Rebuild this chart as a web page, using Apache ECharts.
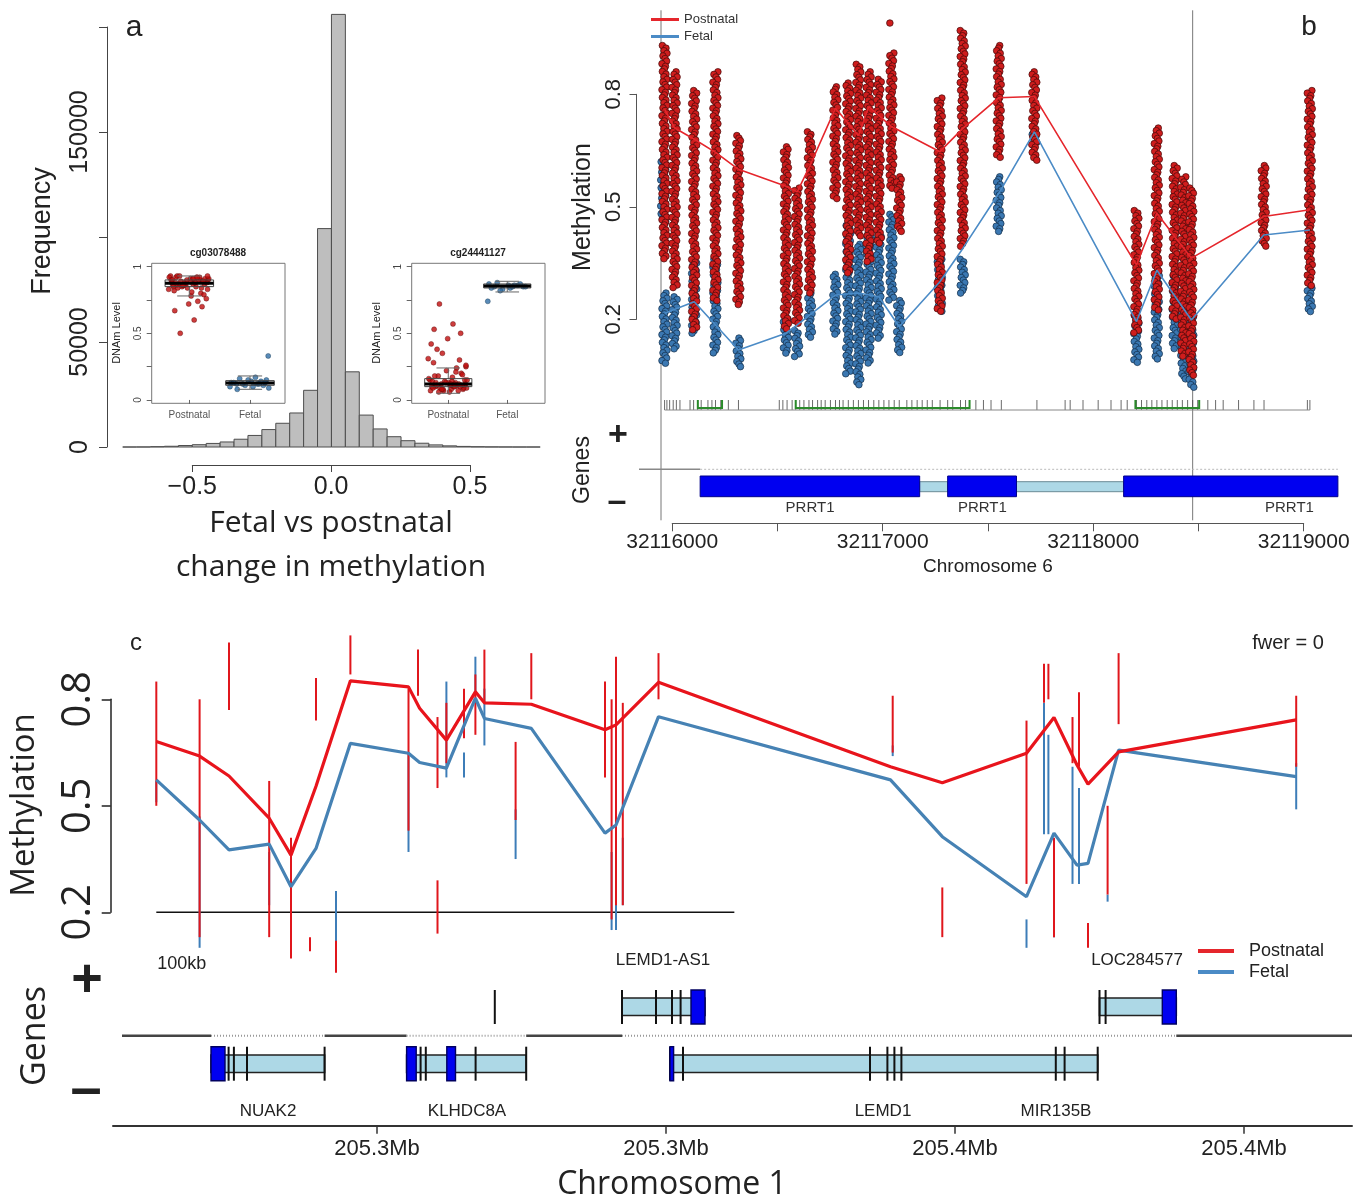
<!DOCTYPE html>
<html>
<head>
<meta charset="utf-8" />
<title>Fetal vs postnatal methylation</title>
<script src="https://cdn.jsdelivr.net/npm/echarts@6/dist/echarts.min.js"></script>
<style>html,body{margin:0;padding:0;background:#fff}</style>
</head>
<body>
<div id="chart" style="width:1368px;height:1203px"></div>
<script>
var SANS = "'Liberation Sans', Arial, sans-serif";
var HUM = "'Open Sans', 'Liberation Sans', sans-serif";

/* ===== panel a: histogram ===== */
var histEdges = [-0.75,-0.7,-0.65,-0.6,-0.55,-0.5,-0.45,-0.4,-0.35,-0.3,-0.25,-0.2,-0.15,-0.1,-0.05,0,0.05,0.1,0.15,0.2,0.25,0.3,0.35,0.4,0.45,0.5,0.55,0.6,0.65,0.7,0.75];
var histCounts = [0,20,150,350,700,1100,1700,2400,3700,5500,8300,11300,16200,27000,104000,206000,35800,15200,8600,4900,3000,1800,1000,550,280,120,50,20,0,0];
var aTicksX = [-0.5, 0, 0.5];
var aTicksY = [0, 50000, 100000, 150000, 200000];
var aLabelsY = [0, 50000, 150000];

/* ===== panel a: insets ===== */
var insetGroups = ['Postnatal', 'Fetal'];
var insetTicksY = [0, 0.25, 0.5, 0.75, 1];
var insetLabelsY = [0, 0.5, 1];
var insetJitter = [-0.22,0.18,0.05,-0.31,0.27,-0.08,0.12,-0.17,0.31,-0.27,0.02,0.22,-0.12,0.09,-0.33,0.25,-0.03,0.15,-0.21,0.3,-0.14,0.07,0.29,-0.25,0.11,-0.06,0.19,-0.3,0.24,-0.1,0.03,-0.19,0.28,-0.29,0.14,-0.01,0.21,-0.24,0.08,-0.15,0.26,-0.2,0.01,0.17,-0.28,0.1,-0.09,0.32,-0.16,0.06,0.23,-0.26,0.13,-0.04,0.2,-0.23,0.04,0.3,-0.11,-0.34];
var ins1Postnatal = [0.92,0.90,0.91,0.93,0.89,0.88,0.92,0.87,0.90,0.86,0.91,0.89,0.85,0.88,0.92,0.87,0.84,0.90,0.86,0.83,0.89,0.91,0.88,0.82,0.85,0.87,0.80,0.90,0.79,0.86,0.78,0.84,0.76,0.88,0.74,0.72,0.70,0.67,0.60,0.50,0.91,0.93,0.89,0.92,0.90,0.88,0.86,0.91,0.93,0.87,0.89,0.85,0.92,0.90,0.84,0.88,0.81,0.93,0.86,0.83];
var ins1Fetal = [0.12,0.14,0.10,0.13,0.15,0.11,0.12,0.16,0.09,0.13,0.14,0.11,0.12,0.17,0.10,0.13,0.15,0.12,0.08,0.33];
var ins2Postnatal = [0.10,0.12,0.08,0.15,0.11,0.07,0.13,0.18,0.09,0.14,0.06,0.20,0.12,0.10,0.16,0.08,0.22,0.11,0.13,0.25,0.09,0.17,0.12,0.28,0.10,0.14,0.30,0.07,0.19,0.35,0.11,0.38,0.15,0.42,0.24,0.46,0.50,0.53,0.57,0.72,0.09,0.11,0.13,0.07,0.10,0.12,0.08,0.15,0.06,0.14,0.11,0.09,0.21,0.13,0.10,0.18,0.12,0.26,0.08,0.31];
var ins2Fetal = [0.85,0.86,0.84,0.87,0.85,0.83,0.86,0.88,0.85,0.84,0.86,0.87,0.82,0.85,0.74];
// [group, lower whisker, Q1, median, Q3, upper whisker]
var ins1Boxes = [[1,0.78,0.85,0.876,0.90,0.93],[2,0.08,0.11,0.127,0.145,0.18]];
var ins2Boxes = [[1,0.05,0.10,0.12,0.16,0.24],[2,0.81,0.84,0.855,0.87,0.89]];

/* ===== panel b: chromosome 6 region ===== */
// [position, top, bottom] of each CpG's sample cloud
var bRedCols = [[32115964,0.93,0.36],[32116012,0.86,0.28],[32116105,0.81,0.17],[32116206,0.86,0.25],[32116315,0.69,0.24],[32116541,0.66,0.17],[32116594,0.55,0.19],[32116655,0.70,0.27],[32116776,0.82,0.52],[32116837,0.83,0.32],[32116885,0.88,0.42],[32116934,0.86,0.35],[32116982,0.84,0.40],[32117042,0.91,0.55],[32117042,0.99,0.985],[32117079,0.58,0.43],[32117272,0.79,0.22],[32117381,0.97,0.39],[32117552,0.93,0.63],[32117721,0.86,0.62],[32118206,0.49,0.16],[32118303,0.71,0.22],[32118388,0.61,0.20],[32118429,0.58,0.10],[32118467,0.55,0.05],[32118811,0.61,0.39],[32119030,0.81,0.29]];
var bBlueCols = [[32115958,0.62,0.46],[32115964,0.27,0.08],[32116012,0.26,0.12],[32116105,0.35,0.16],[32116206,0.36,0.11],[32116315,0.15,0.07],[32116541,0.20,0.11],[32116594,0.17,0.10],[32116655,0.27,0.15],[32116776,0.32,0.16],[32116837,0.45,0.05],[32116885,0.40,0.02],[32116934,0.43,0.08],[32116982,0.42,0.15],[32117042,0.48,0.25],[32117079,0.25,0.11],[32117272,0.36,0.22],[32117381,0.36,0.27],[32117552,0.58,0.43],[32117721,0.70,0.66],[32118206,0.21,0.08],[32118303,0.33,0.09],[32118388,0.33,0.12],[32118429,0.27,0.04],[32118467,0.22,0.02],[32119030,0.29,0.22]];
var bRedMean = [[32115964,0.76],[32116012,0.71],[32116105,0.68],[32116206,0.645],[32116315,0.60],[32116541,0.555],[32116594,0.54],[32116655,0.61],[32116776,0.763],[32116885,0.69],[32116934,0.767],[32117042,0.714],[32117272,0.647],[32117381,0.709],[32117552,0.791],[32117721,0.794],[32118206,0.345],[32118303,0.483],[32118467,0.363],[32118811,0.474],[32119030,0.492]];
var bBlueMean = [[32115964,0.216],[32116105,0.247],[32116206,0.185],[32116315,0.118],[32116541,0.163],[32116594,0.185],[32116776,0.265],[32116885,0.27],[32116982,0.26],[32117079,0.18],[32117272,0.30],[32117381,0.389],[32117552,0.536],[32117721,0.70],[32118206,0.194],[32118303,0.331],[32118467,0.198],[32118811,0.425],[32119030,0.438]];
var bRug = [32115964,32115975,32115988,32116005,32116020,32116037,32116085,32116102,32116121,32116138,32116170,32116189,32116206,32116231,32116267,32116315,32116509,32116526,32116546,32116570,32116587,32116606,32116626,32116650,32116667,32116691,32116708,32116727,32116752,32116776,32116795,32116812,32116837,32116861,32116885,32116909,32116933,32116958,32116982,32117006,32117030,32117055,32117079,32117115,32117139,32117164,32117188,32117212,32117236,32117273,32117309,32117333,32117370,32117394,32117443,32117479,32117515,32117564,32117733,32117867,32117891,32117952,32118024,32118085,32118133,32118162,32118206,32118230,32118255,32118279,32118303,32118327,32118352,32118376,32118400,32118424,32118449,32118473,32118497,32118545,32118582,32118618,32118691,32118764,32118812,32119018,32119030];
var bIslands = [[32116122,32116237],[32116587,32117413],[32118201,32118504]];
var bExons = [[32116133,32117176],[32117309,32117636],[32118145,32119163]];
var bGeneLabels = [[32116655,'PRRT1'],[32117474,'PRRT1'],[32118933,'PRRT1']];
var bRegion = [32115947, 32118473];
var bTicks = [32116000,32116500,32117000,32117500,32118000,32118500,32119000];
var bTickLabels = [32116000,32117000,32118000,32119000];
var bTicksY = [0.2, 0.5, 0.8];

/* ===== panel c: chromosome 1 region ===== */
var cRedCols = [[205211820,0.85,0.50],[205219310,0.80,0.13],[205224396,0.96,0.77],[205231350,0.57,0.13],[205235122,0.41,0.07],[205238409,0.13,0.09],[205239447,0.86,0.74],[205242907,0.12,0.03],[205245398,0.98,0.87],[205255450,0.83,0.43],[205257093,0.94,0.81],[205260467,0.75,0.55],[205260467,0.29,0.14],[205262006,0.79,0.62],[205265051,0.83,0.69],[205267023,0.87,0.70],[205268580,0.94,0.79],[205273978,0.68,0.46],[205276694,0.93,0.80],[205289444,0.85,0.58],[205290586,0.80,0.18],[205291347,0.92,0.22],[205292523,0.79,0.22],[205298700,0.93,0.80],[205339216,0.81,0.65],[205347797,0.27,0.13],[205362364,0.74,0.28],[205365391,0.90,0.79],[205366152,0.90,0.80],[205367121,0.41,0.13],[205370322,0.75,0.62],[205371446,0.82,0.61],[205373003,0.17,0.10],[205376394,0.50,0.25],[205378297,0.93,0.73],[205409022,0.81,0.61]];
var cBlueCols = [[205211820,0.57,0.51],[205219310,0.47,0.10],[205231350,0.37,0.22],[205235122,0.27,0.18],[205242907,0.26,0.07],[205255450,0.65,0.37],[205262006,0.85,0.58],[205265051,0.65,0.58],[205267023,0.92,0.82],[205268580,0.83,0.67],[205273978,0.49,0.35],[205290586,0.37,0.15],[205291347,0.46,0.15],[205292523,0.41,0.22],[205339216,0.67,0.64],[205362364,0.18,0.10],[205365391,0.79,0.42],[205366152,0.70,0.42],[205367121,0.25,0.13],[205370322,0.61,0.28],[205371446,0.55,0.28],[205376394,0.25,0.23],[205409022,0.62,0.49]];
var cRedMean = [[205211820,0.681],[205219310,0.640],[205224396,0.584],[205231350,0.465],[205235122,0.361],[205239447,0.555],[205245398,0.852],[205255450,0.835],[205257370,0.775],[205262006,0.685],[205267023,0.821],[205268580,0.790],[205276694,0.786],[205289444,0.714],[205291347,0.728],[205298700,0.848],[205338836,0.610],[205347797,0.565],[205362364,0.648],[205367121,0.749],[205371100,0.615],[205373003,0.561],[205378297,0.652],[205409022,0.742]];
var cBlueMean = [[205211820,0.573],[205219310,0.46],[205224396,0.376],[205231350,0.392],[205235122,0.272],[205239447,0.38],[205245398,0.676],[205255450,0.648],[205257370,0.622],[205262006,0.606],[205267023,0.803],[205268580,0.746],[205276694,0.718],[205289444,0.423],[205291347,0.446],[205298700,0.751],[205338836,0.573],[205347797,0.413],[205362364,0.244],[205367121,0.423],[205371100,0.333],[205373003,0.338],[205378297,0.657],[205409022,0.582]];
var cScaleBar = [205211820, 100000];
// [start, end, strand]
var cGenes = [[205292385,205306744,1],[205374993,205388279,1],[205221282,205240935,-1],[205255121,205275812,-1],[205300689,205374681,-1]];
var cExonLines = [[205270379,1],[205292385,1],[205298267,1],[205301035,1],[205302523,1],[205374993,1],[205376048,1],[205224327,-1],[205225244,-1],[205227510,-1],[205240935,-1],[205257543,-1],[205258442,-1],[205267058,-1],[205275812,-1],[205300689,-1],[205302938,-1],[205335289,-1],[205338299,-1],[205339510,-1],[205340721,-1],[205367432,-1],[205368955,-1],[205374681,-1]];
var cCodingExons = [[205304322,205306744,1],[205385857,205388279,1],[205221282,205223704,-1],[205255121,205256782,-1],[205262075,205263580,-1],[205300689,205301312,-1]];
var cGeneLabels = [[205299478,'LEMD1-AS1',1],[205381480,'LOC284577',1],[205231143,'NUAK2',-1],[205265570,'KLHDC8A',-1],[205337538,'LEMD1',-1],[205367467,'MIR135B',-1]];
var cTicks = [205250000,205300000,205350000,205400000];
var cTickLabels = ['205.3Mb','205.3Mb','205.4Mb','205.4Mb'];
var cTicksY = [0.2, 0.5, 0.8];

var BLUE = '#3d7db8';
var LRED = '#e5262c', LBLUE = '#4b8bc6';

/* ===== render helpers ===== */
function renderHist(params, api) {
  var p0 = api.coord([api.value(0), 0]);
  var p1 = api.coord([api.value(1), api.value(2)]);
  return { type: 'rect', shape: { x: p0[0], y: p1[1], width: p1[0] - p0[0], height: p0[1] - p1[1] },
    style: { fill: '#bebebe', stroke: '#4d4d4d', lineWidth: 1 } };
}

function renderBox(params, api) {
  var g = api.value(0);
  var lo = api.coord([g, api.value(1)]), q1 = api.coord([g, api.value(2)]);
  var md = api.coord([g, api.value(3)]), q3 = api.coord([g, api.value(4)]), hi = api.coord([g, api.value(5)]);
  var hw = api.size([0.8, 0])[0] / 2;
  var gray = { stroke: '#666', lineWidth: 1 };
  return { type: 'group', children: [
    { type: 'line', shape: { x1: lo[0], y1: lo[1], x2: q1[0], y2: q1[1] }, style: gray },
    { type: 'line', shape: { x1: q3[0], y1: q3[1], x2: hi[0], y2: hi[1] }, style: gray },
    { type: 'line', shape: { x1: lo[0] - hw / 2, y1: lo[1], x2: lo[0] + hw / 2, y2: lo[1] }, style: gray },
    { type: 'line', shape: { x1: hi[0] - hw / 2, y1: hi[1], x2: hi[0] + hw / 2, y2: hi[1] }, style: gray },
    { type: 'rect', shape: { x: q3[0] - hw, y: q3[1], width: hw * 2, height: q1[1] - q3[1] }, style: { fill: 'none', stroke: '#444', lineWidth: 1 } },
    { type: 'line', shape: { x1: md[0] - hw, y1: md[1], x2: md[0] + hw, y2: md[1] }, style: { stroke: '#000', lineWidth: 3 } }
  ] };
}

// a cloud of overlapping sample dots drawn over the column's range
var DOT_SHIFT = [-2.2, 1.4, -0.6, 2.4, -1.6, 0.5, 2.0, -2.6, 0.9, -0.2];
function dotColumn(fill, stroke) {
  return function (params, api) {
    var top = api.coord([api.value(0), api.value(1)]);
    var bot = api.coord([api.value(0), api.value(2)]);
    var kids = [], k = params.dataIndex;
    for (var y = top[1]; y <= bot[1] + 0.5; y += 2.6) {
      kids.push({ type: 'circle', shape: { cx: top[0] + DOT_SHIFT[k % DOT_SHIFT.length], cy: y, r: 3.3 },
        style: { fill: fill, stroke: stroke, lineWidth: 0.7 } });
      k++;
    }
    return { type: 'group', children: kids };
  };
}

function lineColumn(color) {
  return function (params, api) {
    var top = api.coord([api.value(0), api.value(1)]);
    var bot = api.coord([api.value(0), api.value(2)]);
    return { type: 'line', shape: { x1: top[0], y1: top[1], x2: bot[0], y2: bot[1] }, style: { stroke: color, lineWidth: 2 } };
  };
}

function xOf(api, v) { return api.coord([v, 0])[0]; }

/* ===== option ===== */
var grids = [
  { left: 122.7, top: 6, width: 417.5, height: 441 },          // 0 histogram
  { left: 107, top: 27, width: 10, height: 420 },               // 1 hist y axis
  { left: 192.3, top: 400, width: 277.7, height: 65 },          // 2 hist x axis
  { left: 151.7, top: 263.3, width: 133.3, height: 140, show: true, borderColor: '#777', borderWidth: 1, backgroundColor: '#fff' }, // 3 inset 1
  { left: 151.7, top: 266.7, width: 10, height: 133.3 },        // 4 inset 1 y axis
  { left: 411.7, top: 263.3, width: 133.3, height: 140, show: true, borderColor: '#777', borderWidth: 1, backgroundColor: '#fff' }, // 5 inset 2
  { left: 411.7, top: 266.7, width: 10, height: 133.3 },        // 6 inset 2 y axis
  { left: 661, top: 19.3, width: 679, height: 375 },            // 7 panel b data
  { left: 636.5, top: 94.3, width: 10, height: 225 },           // 8 panel b y axis
  { left: 672.2, top: 450, width: 631.5, height: 73.3 },        // 9 panel b x axis
  { left: 661, top: 395, width: 679, height: 128 },             // 10 panel b tracks
  { left: 113, top: 628.3, width: 1239, height: 355 },          // 11 panel c data
  { left: 110.7, top: 699.3, width: 10, height: 213 },          // 12 panel c y axis
  { left: 113, top: 990, width: 1239, height: 135.7 }           // 13 panel c tracks + x axis
];
grids.forEach(function (g) { g.outerBoundsMode = 'none'; g.containLabel = false; });

function hiddenAxis(gi, min, max) {
  return { gridIndex: gi, type: 'value', min: min, max: max, show: false };
}
var axisGray = { color: '#444', width: 1 };

var xAxes = [
  hiddenAxis(0, -0.75, 0.75),
  hiddenAxis(1, 0, 1),
  { gridIndex: 2, type: 'value', min: -0.5, max: 0.5, position: 'bottom',
    axisLine: { show: true, lineStyle: axisGray }, splitLine: { show: false },
    axisTick: { show: true, customValues: aTicksX, length: 7, lineStyle: axisGray },
    axisLabel: { show: true, customValues: aTicksX, margin: 10, fontSize: 25, color: '#222', fontFamily: SANS,
      formatter: function (v) { return (v < 0 ? '\u2212' : '') + Math.abs(v).toFixed(1); } } },
  { gridIndex: 3, type: 'value', min: 0.38, max: 2.577, position: 'bottom',
    axisLine: { show: false }, splitLine: { show: false },
    axisTick: { show: true, customValues: [1, 2], length: 4, lineStyle: { color: '#666' } },
    axisLabel: { show: true, customValues: [1, 2], margin: 7, fontSize: 10, color: '#555', fontFamily: SANS,
      formatter: function (v) { return insetGroups[v - 1]; } } },
  hiddenAxis(4, 0, 1),
  { gridIndex: 5, type: 'value', min: 0.38, max: 2.64, position: 'bottom',
    axisLine: { show: false }, splitLine: { show: false },
    axisTick: { show: true, customValues: [1, 2], length: 4, lineStyle: { color: '#666' } },
    axisLabel: { show: true, customValues: [1, 2], margin: 7, fontSize: 10, color: '#555', fontFamily: SANS,
      formatter: function (v) { return insetGroups[v - 1]; } } },
  hiddenAxis(6, 0, 1),
  hiddenAxis(7, 32115947, 32119173),
  hiddenAxis(8, 0, 1),
  { gridIndex: 9, type: 'value', min: 32116000, max: 32119000, position: 'bottom',
    axisLine: { show: true, lineStyle: { color: '#555' } }, splitLine: { show: false },
    axisTick: { show: true, customValues: bTicks, length: 8, lineStyle: { color: '#555' } },
    axisLabel: { show: true, customValues: bTickLabels, margin: 8, fontSize: 21, color: '#222', fontFamily: SANS,
      formatter: function (v) { return String(v); } } },
  hiddenAxis(10, 32115947, 32119173),
  hiddenAxis(11, 205204328, 205418675),
  hiddenAxis(12, 0, 1),
  { gridIndex: 13, type: 'value', min: 205204328, max: 205418675, position: 'bottom',
    axisLine: { show: true, lineStyle: { color: '#333', width: 2 } }, splitLine: { show: false },
    axisTick: { show: true, customValues: cTicks, length: 8, lineStyle: { color: '#333', width: 1.5 } },
    axisLabel: { show: true, customValues: cTicks, margin: 12, fontSize: 22, color: '#222', fontFamily: SANS,
      formatter: function (v) { return cTickLabels[cTicks.indexOf(v)]; } } }
];

var yAxes = [
  hiddenAxis(0, 0, 210000),
  { gridIndex: 1, type: 'value', min: 0, max: 200000, position: 'left',
    axisLine: { show: true, lineStyle: axisGray }, splitLine: { show: false },
    axisTick: { show: true, customValues: aTicksY, length: 8, lineStyle: axisGray },
    axisLabel: { show: true, customValues: aLabelsY, rotate: 90, margin: 14, fontSize: 25, color: '#222', fontFamily: SANS,
      formatter: function (v) { return String(v); } } },
  hiddenAxis(2, 0, 1),
  hiddenAxis(3, -0.025, 1.025),
  { gridIndex: 4, type: 'value', min: 0, max: 1, position: 'left',
    axisLine: { show: false }, splitLine: { show: false },
    axisTick: { show: true, customValues: insetTicksY, length: 5, lineStyle: { color: '#666' } },
    axisLabel: { show: true, customValues: insetLabelsY, rotate: 90, margin: 8, fontSize: 10, color: '#444', fontFamily: SANS,
      formatter: function (v) { return String(v); } } },
  hiddenAxis(5, -0.025, 1.025),
  { gridIndex: 6, type: 'value', min: 0, max: 1, position: 'left',
    axisLine: { show: false }, splitLine: { show: false },
    axisTick: { show: true, customValues: insetTicksY, length: 5, lineStyle: { color: '#666' } },
    axisLabel: { show: true, customValues: insetLabelsY, rotate: 90, margin: 8, fontSize: 10, color: '#444', fontFamily: SANS,
      formatter: function (v) { return String(v); } } },
  hiddenAxis(7, 0, 1),
  { gridIndex: 8, type: 'value', min: 0.2, max: 0.8, position: 'left',
    axisLine: { show: true, lineStyle: { color: '#555' } }, splitLine: { show: false },
    axisTick: { show: true, customValues: bTicksY, length: 7, lineStyle: { color: '#555' } },
    axisLabel: { show: true, customValues: bTicksY, rotate: 90, margin: 12, fontSize: 22, color: '#222', fontFamily: SANS,
      formatter: function (v) { return v.toFixed(1); } } },
  hiddenAxis(9, 0, 1),
  hiddenAxis(10, 0, 1),
  hiddenAxis(11, 0, 1),
  { gridIndex: 12, type: 'value', min: 0.2, max: 0.8, position: 'left',
    axisLine: { show: true, lineStyle: { color: '#222', width: 1.5 } }, splitLine: { show: false },
    axisTick: { show: true, customValues: cTicksY, length: 9, lineStyle: { color: '#222', width: 1.5 } },
    axisLabel: { show: true, customValues: cTicksY, rotate: 90, margin: 12, fontSize: 40, color: '#222', fontFamily: HUM,
      formatter: function (v) { return v.toFixed(1); } } },
  hiddenAxis(13, 0, 1)
];

function jittered(values, group) {
  return values.map(function (v, i) { return [group + insetJitter[i % insetJitter.length], v]; });
}

var series = [];
// panel a histogram
series.push({ type: 'custom', xAxisIndex: 0, yAxisIndex: 0, renderItem: renderHist,
  encode: { x: [0, 1], y: 2 },
  data: histCounts.map(function (c, i) { return [histEdges[i], histEdges[i + 1], c]; }) });

// insets
[[3, ins1Postnatal, ins1Fetal, ins1Boxes], [5, ins2Postnatal, ins2Fetal, ins2Boxes]].forEach(function (ins) {
  series.push({ type: 'scatter', xAxisIndex: ins[0], yAxisIndex: ins[0], symbolSize: 5, z: 3,
    itemStyle: { color: '#c00d0d', borderColor: '#5a0808', borderWidth: 0.5 }, data: jittered(ins[1], 1) });
  series.push({ type: 'scatter', xAxisIndex: ins[0], yAxisIndex: ins[0], symbolSize: 5, z: 3,
    itemStyle: { color: '#2f6ea6', borderColor: '#143650', borderWidth: 0.5 }, data: jittered(ins[2], 2) });
  series.push({ type: 'custom', xAxisIndex: ins[0], yAxisIndex: ins[0], renderItem: renderBox, z: 4,
    encode: { x: 0, y: [1, 2, 3, 4, 5] }, data: ins[3] });
});

// panel b: region boundary lines
series.push({ type: 'custom', xAxisIndex: 7, yAxisIndex: 7, z: 1,
  renderItem: function (params, api) {
    var x = xOf(api, api.value(0)), cs = params.coordSys;
    return { type: 'line', shape: { x1: x, y1: cs.y - 9, x2: x, y2: cs.y + cs.height + 126 }, style: { stroke: '#777', lineWidth: 1 } };
  }, data: bRegion.map(function (p) { return [p, 0]; }) });
// panel b: sample clouds
series.push({ type: 'custom', xAxisIndex: 7, yAxisIndex: 7, renderItem: dotColumn('#3b78b2', '#112c47'),
  encode: { x: 0, y: [1, 2] }, data: bBlueCols });
series.push({ type: 'custom', xAxisIndex: 7, yAxisIndex: 7, renderItem: dotColumn('#cf1d1d', '#420909'),
  encode: { x: 0, y: [1, 2] }, data: bRedCols });
series.push({ name: 'Fetal', type: 'line', xAxisIndex: 7, yAxisIndex: 7, showSymbol: false, symbol: 'none', z: 5,
  color: LBLUE, lineStyle: { color: LBLUE, width: 1.6 }, data: bBlueMean });
series.push({ name: 'Postnatal', type: 'line', xAxisIndex: 7, yAxisIndex: 7, showSymbol: false, symbol: 'none', z: 5,
  color: LRED, lineStyle: { color: LRED, width: 1.6 }, data: bRedMean });

// panel b tracks: rug
series.push({ type: 'custom', xAxisIndex: 10, yAxisIndex: 10,
  renderItem: function (params, api) {
    var x = xOf(api, api.value(0)), y0 = params.coordSys.y;
    return { type: 'line', shape: { x1: x, y1: y0 + 5, x2: x, y2: y0 + 15 }, style: { stroke: '#444', lineWidth: 0.8 } };
  }, data: bRug.map(function (p) { return [p, 0]; }) });
series.push({ type: 'custom', xAxisIndex: 10, yAxisIndex: 10,
  renderItem: function (params, api) {
    var y0 = params.coordSys.y;
    return { type: 'line', shape: { x1: xOf(api, api.value(0)), y1: y0 + 15, x2: xOf(api, api.value(1)), y2: y0 + 15 }, style: { stroke: '#888', lineWidth: 1 } };
  }, data: [[Math.min.apply(null, bRug), Math.max.apply(null, bRug)]] });
series.push({ type: 'custom', xAxisIndex: 10, yAxisIndex: 10,
  renderItem: function (params, api) {
    var a = xOf(api, api.value(0)), b = xOf(api, api.value(1)), y0 = params.coordSys.y;
    return { type: 'polyline', shape: { points: [[a, y0 + 5], [a, y0 + 13], [b, y0 + 13], [b, y0 + 5]] },
      style: { stroke: '#2a8a2a', lineWidth: 2, fill: 'none' } };
  }, data: bIslands });
// panel b tracks: gene model
series.push({ type: 'custom', xAxisIndex: 10, yAxisIndex: 10,
  renderItem: function (params, api) {
    var cs = params.coordSys, y = cs.y + 74.3;
    var s = xOf(api, api.value(0)), e = xOf(api, api.value(1));
    return { type: 'group', children: [
      { type: 'line', shape: { x1: cs.x - 22, y1: y, x2: s, y2: y }, style: { stroke: '#888', lineWidth: 1.5 } },
      { type: 'line', shape: { x1: s, y1: y, x2: e, y2: y }, style: { stroke: '#bbb', lineWidth: 1, lineDash: [2, 2] } }
    ] };
  }, data: [[bExons[0][0], bExons[bExons.length - 1][1]]] });
series.push({ type: 'custom', xAxisIndex: 10, yAxisIndex: 10,
  renderItem: function (params, api) {
    var y0 = params.coordSys.y, a = xOf(api, api.value(0)), b = xOf(api, api.value(1));
    return { type: 'rect', shape: { x: a, y: y0 + 86.7, width: b - a, height: 10 }, style: { fill: '#add8e6', stroke: '#6b8a96', lineWidth: 1 } };
  }, data: bExons.slice(1).map(function (ex, i) { return [bExons[i][1], ex[0]]; }) });
series.push({ type: 'custom', xAxisIndex: 10, yAxisIndex: 10,
  renderItem: function (params, api) {
    var y0 = params.coordSys.y, a = xOf(api, api.value(0)), b = xOf(api, api.value(1));
    return { type: 'rect', shape: { x: a, y: y0 + 81, width: b - a, height: 20.7 }, style: { fill: '#0000f0', stroke: '#00008a', lineWidth: 1 } };
  }, data: bExons });
series.push({ type: 'custom', xAxisIndex: 10, yAxisIndex: 10,
  renderItem: function (params, api) {
    return { type: 'text', style: { text: bGeneLabels[params.dataIndex][1], x: xOf(api, api.value(0)), y: params.coordSys.y + 113.3,
      align: 'center', verticalAlign: 'middle', font: '15px ' + SANS, fill: '#333' } };
  }, data: bGeneLabels.map(function (g) { return [g[0], 0]; }) });

// panel c: scale bar
series.push({ type: 'custom', xAxisIndex: 11, yAxisIndex: 11,
  renderItem: function (params, api) {
    var p = api.coord([api.value(0), 0.2]), q = api.coord([api.value(0) + api.value(1), 0.2]);
    return { type: 'group', children: [
      { type: 'line', shape: { x1: p[0], y1: p[1], x2: q[0], y2: q[1] }, style: { stroke: '#111', lineWidth: 1.6 } },
      { type: 'text', style: { text: (api.value(1) / 1000) + 'kb', x: p[0] + 1, y: p[1] + 52, align: 'left', verticalAlign: 'middle', font: '18px ' + SANS, fill: '#222' } }
    ] };
  }, data: [cScaleBar] });
series.push({ type: 'custom', xAxisIndex: 11, yAxisIndex: 11, renderItem: lineColumn(BLUE),
  encode: { x: 0, y: [1, 2] }, data: cBlueCols });
series.push({ type: 'custom', xAxisIndex: 11, yAxisIndex: 11, renderItem: lineColumn('#e0161c'),
  encode: { x: 0, y: [1, 2] }, data: cRedCols });
series.push({ name: 'Fetal', type: 'line', xAxisIndex: 11, yAxisIndex: 11, showSymbol: false, symbol: 'none', z: 5,
  color: '#4682b4', lineStyle: { color: '#4682b4', width: 3.2 }, data: cBlueMean });
series.push({ name: 'Postnatal', type: 'line', xAxisIndex: 11, yAxisIndex: 11, showSymbol: false, symbol: 'none', z: 5,
  color: '#e8141c', lineStyle: { color: '#e8141c', width: 3.2 }, data: cRedMean });

// panel c tracks: strand line
series.push({ type: 'custom', xAxisIndex: 13, yAxisIndex: 13,
  renderItem: function (params, api) {
    var cs = params.coordSys, y = cs.y + 45.7;
    return { type: 'line', shape: { x1: cs.x + 9, y1: y, x2: cs.x + cs.width, y2: y }, style: { stroke: '#444', lineWidth: 2.5 } };
  }, data: [[0, 0]] });
series.push({ type: 'custom', xAxisIndex: 13, yAxisIndex: 13,
  renderItem: function (params, api) {
    var y = params.coordSys.y + 45.7, a = xOf(api, api.value(0)), b = xOf(api, api.value(1));
    return { type: 'group', children: [
      { type: 'line', shape: { x1: a, y1: y, x2: b, y2: y }, style: { stroke: '#fff', lineWidth: 4 } },
      { type: 'line', shape: { x1: a, y1: y, x2: b, y2: y }, style: { stroke: '#999', lineWidth: 2, lineDash: [1, 2] } }
    ] };
  }, data: [[cGenes[2][0], cGenes[2][1]], [cGenes[3][0], cGenes[3][1]], [cGenes[0][0], cGenes[1][1]]] });
function strandY(cs, strand) { return strand > 0 ? cs.y : cs.y + 56.7; }
series.push({ type: 'custom', xAxisIndex: 13, yAxisIndex: 13,
  renderItem: function (params, api) {
    var y = strandY(params.coordSys, api.value(2)), a = xOf(api, api.value(0)), b = xOf(api, api.value(1));
    var top = api.value(2) > 0 ? y + 8 : y + 8.3;
    return { type: 'rect', shape: { x: a, y: top, width: b - a, height: 17.5 }, style: { fill: '#add8e6', stroke: '#222', lineWidth: 1.6 } };
  }, data: cGenes });
series.push({ type: 'custom', xAxisIndex: 13, yAxisIndex: 13,
  renderItem: function (params, api) {
    var y = strandY(params.coordSys, api.value(1)), x = xOf(api, api.value(0));
    return { type: 'line', shape: { x1: x, y1: y, x2: x, y2: y + 34 }, style: { stroke: '#111', lineWidth: 2 } };
  }, data: cExonLines });
series.push({ type: 'custom', xAxisIndex: 13, yAxisIndex: 13,
  renderItem: function (params, api) {
    var y = strandY(params.coordSys, api.value(2)), a = xOf(api, api.value(0)), b = xOf(api, api.value(1));
    return { type: 'rect', shape: { x: a, y: y, width: Math.max(b - a, 2), height: 34 }, style: { fill: '#0000f0', stroke: '#000060', lineWidth: 1.4 } };
  }, data: cCodingExons });
series.push({ type: 'custom', xAxisIndex: 13, yAxisIndex: 13,
  renderItem: function (params, api) {
    var g = cGeneLabels[params.dataIndex], cs = params.coordSys;
    return { type: 'text', style: { text: g[1], x: xOf(api, api.value(0)), y: g[2] > 0 ? cs.y - 30 : cs.y + 121.7,
      align: 'center', verticalAlign: 'middle', font: '17px ' + SANS, fill: '#222' } };
  }, data: cGeneLabels.map(function (g) { return [g[0], 0]; }) });

function txt(text, x, y, font, opts) {
  var o = opts || {};
  return { type: 'text', x: x, y: y, rotation: o.rot || 0, z: 10,
    style: { text: text, font: font, fill: o.fill || '#222', align: o.align || 'center', verticalAlign: 'middle' } };
}
var R90 = Math.PI / 2;

var option = {
  animation: false,
  backgroundColor: '#fff',
  grid: grids,
  xAxis: xAxes,
  yAxis: yAxes,
  legend: [
    { data: ['Postnatal', 'Fetal'], left: 651, top: 13, orient: 'vertical', icon: 'rect', itemWidth: 28, itemHeight: 3, itemGap: 4,
      padding: 0, textStyle: { fontSize: 13, color: '#333', fontFamily: SANS } },
    { data: ['Postnatal', 'Fetal'], left: 1198, top: 942, orient: 'vertical', icon: 'rect', itemWidth: 36, itemHeight: 4, itemGap: 3,
      padding: 0, textStyle: { fontSize: 18, color: '#222', fontFamily: SANS, padding: [0, 0, 0, 10] } }
  ],
  graphic: [
    txt('a', 134, 28, '30px ' + SANS),
    txt('Frequency', 43, 231, '27px ' + SANS, { rot: R90 }),
    txt('Fetal vs postnatal', 331, 523, '30px ' + HUM),
    txt('change in methylation', 331, 567, '30px ' + HUM),
    txt('cg03078488', 218, 253, 'bold 10px ' + SANS),
    txt('cg24441127', 478, 253, 'bold 10px ' + SANS),
    txt('DNAm Level', 117, 333, '11px ' + SANS, { rot: R90 }),
    txt('DNAm Level', 377, 333, '11px ' + SANS, { rot: R90 }),
    txt('b', 1309, 27, '28px ' + SANS),
    txt('Methylation', 583, 207, '25px ' + SANS, { rot: R90 }),
    txt('Genes', 583, 470, '23px ' + SANS, { rot: R90 }),
    txt('+', 618, 436, 'bold 34px ' + SANS),
    txt('\u2013', 617, 502, 'bold 34px ' + SANS),
    txt('Chromosome 6', 988, 567, '19px ' + SANS),
    txt('c', 136, 643, '24px ' + SANS),
    txt('fwer = 0', 1288, 643, '20px ' + SANS),
    txt('Methylation', 25, 805, '33px ' + HUM, { rot: R90 }),
    txt('Genes', 35, 1036, '34px ' + HUM, { rot: R90 }),
    txt('+', 87, 981, 'bold 54px ' + SANS),
    txt('\u2013', 86, 1091, 'bold 56px ' + SANS),
    txt('Chromosome 1', 672, 1185, '32px ' + HUM)
  ],
  series: series
};

var chart = echarts.init(document.getElementById('chart'));
chart.setOption(option);
</script>
</body>
</html>
